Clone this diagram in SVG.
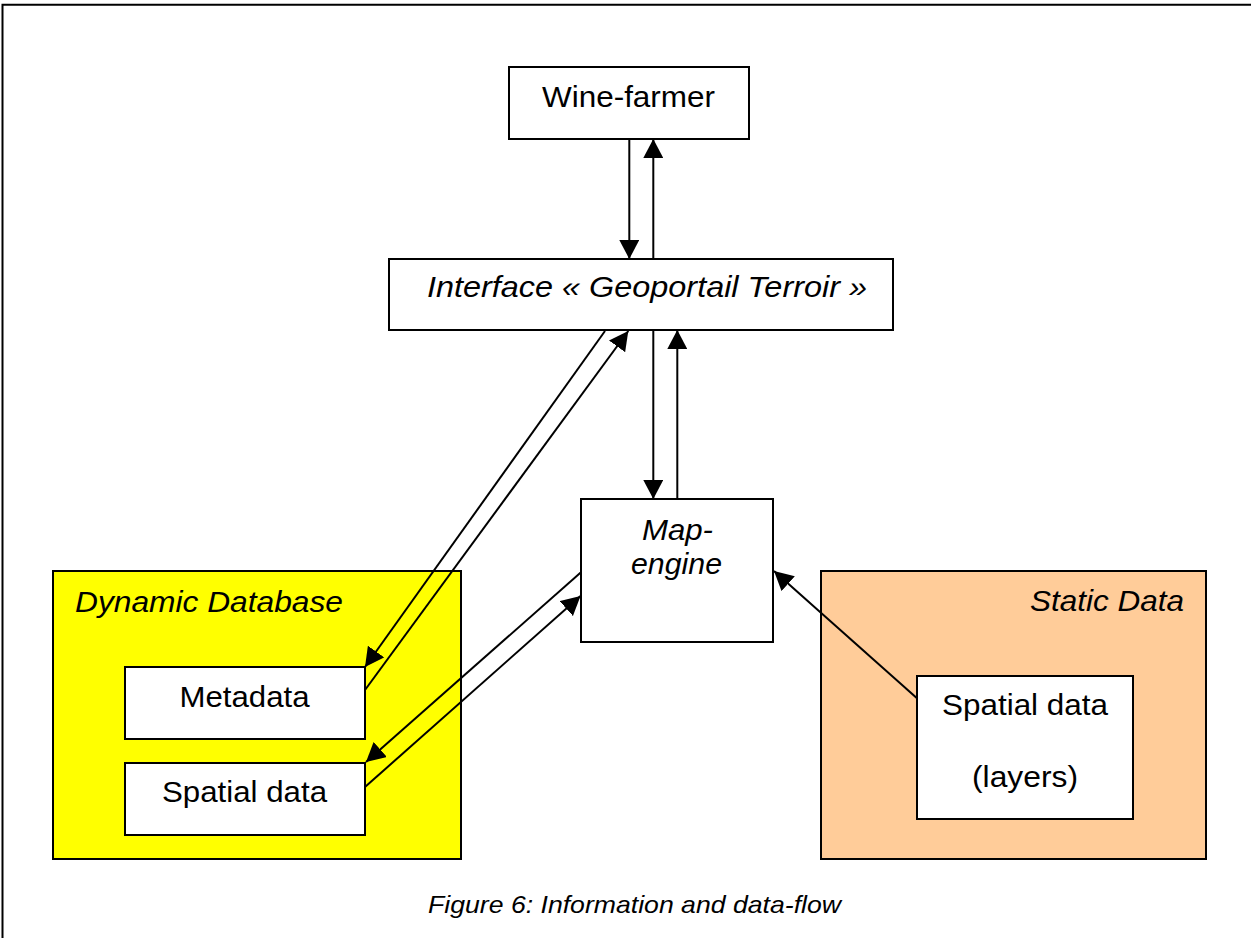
<svg xmlns="http://www.w3.org/2000/svg" width="1251" height="938" viewBox="0 0 1251 938">
  <defs>
    <marker id="arrow" markerUnits="userSpaceOnUse" markerWidth="20" markerHeight="20" refX="19" refY="10" orient="auto">
      <path d="M0,0 L19,10 L0,20 Z" fill="#000"/>
    </marker>
    <style>
      .box { fill: #fff; stroke: #000; stroke-width: 2; }
      .dyn { fill: #ffff00; stroke: #000; stroke-width: 2; }
      .stat { fill: #ffcc99; stroke: #000; stroke-width: 2; }
      .lbl { font-family: "Liberation Sans", Arial, sans-serif; font-size: 30px; fill: #000; }
      .it { font-style: italic; }
      .flow { stroke: #000; stroke-width: 2; fill: none; marker-end: url(#arrow); }
    </style>
  </defs>
  <rect width="1251" height="938" fill="#fff"/>

  <!-- page frame -->
  <path d="M2.5,938 V4.8 H1251" fill="none" stroke="#000" stroke-width="2"/>

  <!-- Dynamic Database container -->
  <g id="dynamic-db">
    <rect class="dyn" x="53" y="571" width="408" height="288"/>
    <text class="lbl it" x="75" y="612" textLength="268" lengthAdjust="spacingAndGlyphs">Dynamic Database</text>
  </g>

  <!-- Static Data container -->
  <g id="static-data">
    <rect class="stat" x="821" y="571" width="385" height="288"/>
    <text class="lbl it" x="1030" y="611" textLength="154" lengthAdjust="spacingAndGlyphs">Static Data</text>
  </g>

  <g id="wine-farmer">
    <rect class="box" x="509" y="67" width="240" height="72"/>
    <text class="lbl" x="542" y="107" textLength="173" lengthAdjust="spacingAndGlyphs">Wine-farmer</text>
  </g>

  <g id="interface">
    <rect class="box" x="389" y="259" width="504" height="71"/>
    <text class="lbl it" x="427" y="297" textLength="440" lengthAdjust="spacingAndGlyphs">Interface « Geoportail Terroir »</text>
  </g>

  <g id="map-engine">
    <rect class="box" x="581" y="499" width="192" height="143"/>
    <text class="lbl it" x="642" y="540" textLength="71" lengthAdjust="spacingAndGlyphs">Map-</text>
    <text class="lbl it" x="631" y="574" textLength="91" lengthAdjust="spacingAndGlyphs">engine</text>
  </g>

  <g id="metadata">
    <rect class="box" x="125" y="667" width="240" height="72"/>
    <text class="lbl" x="179.5" y="707" textLength="130" lengthAdjust="spacingAndGlyphs">Metadata</text>
  </g>

  <g id="dyn-spatial">
    <rect class="box" x="125" y="763" width="240" height="72"/>
    <text class="lbl" x="162" y="802" textLength="165" lengthAdjust="spacingAndGlyphs">Spatial data</text>
  </g>

  <g id="static-spatial">
    <rect class="box" x="917" y="676" width="216" height="143"/>
    <text class="lbl" x="942" y="715" textLength="166" lengthAdjust="spacingAndGlyphs">Spatial data</text>
    <text class="lbl" x="972" y="787" textLength="106" lengthAdjust="spacingAndGlyphs">(layers)</text>
  </g>

  <!-- data flows -->
  <g id="connectors">
    <line class="flow" x1="629.3" y1="139" x2="629.3" y2="259"/>
    <line class="flow" x1="653.3" y1="259" x2="653.3" y2="139"/>
    <line class="flow" x1="653.3" y1="330" x2="653.3" y2="499"/>
    <line class="flow" x1="677.3" y1="499" x2="677.3" y2="330"/>
    <line class="flow" x1="605" y1="331" x2="365" y2="667"/>
    <line class="flow" x1="365" y1="690" x2="628.3" y2="331"/>
    <line class="flow" x1="581" y1="572.3" x2="366" y2="762"/>
    <line class="flow" x1="365" y1="787" x2="580.5" y2="596"/>
    <line class="flow" x1="917" y1="698.3" x2="774" y2="571"/>
  </g>

  <text id="caption" class="lbl it" x="428" y="913" style="font-size:24px" textLength="413" lengthAdjust="spacingAndGlyphs">Figure 6: Information and data-flow</text>
</svg>
